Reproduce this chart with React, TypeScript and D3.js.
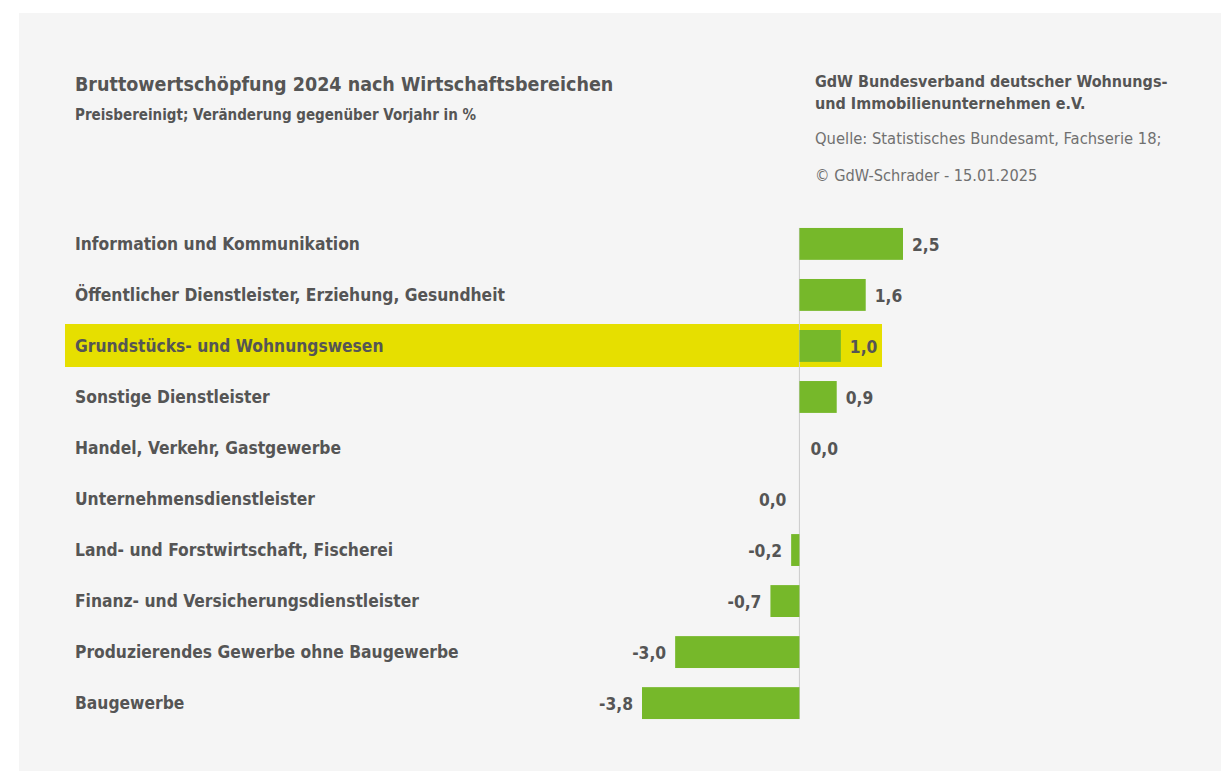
import React from "react";
import * as d3 from "d3";

const categories = [
  "Information und Kommunikation",
  "Öffentlicher Dienstleister, Erziehung, Gesundheit",
  "Grundstücks- und Wohnungswesen",
  "Sonstige Dienstleister",
  "Handel, Verkehr, Gastgewerbe",
  "Unternehmensdienstleister",
  "Land- und Forstwirtschaft, Fischerei",
  "Finanz- und Versicherungsdienstleister",
  "Produzierendes Gewerbe ohne Baugewerbe",
  "Baugewerbe",
];
// -0 marks a zero value shown on the negative side
const values = [2.5, 1.6, 1.0, 0.9, 0.0, -0, -0.2, -0.7, -3.0, -3.8];
const highlighted = ["Grundstücks- und Wohnungswesen"];

const title = "Bruttowertschöpfung 2024 nach Wirtschaftsbereichen";
const subtitle = "Preisbereinigt; Veränderung gegenüber Vorjahr in %";
const publisher = ["GdW Bundesverband deutscher Wohnungs-", "und Immobilienunternehmen e.V."];
const source = "Quelle: Statistisches Bundesamt, Fachserie 18;";
const copyright = "© GdW-Schrader - 15.01.2025";

const W = 1221;
const H = 773;
const FONT = "'DejaVu Sans Condensed', 'Roboto', sans-serif";
const TEXT = "#555555";

export default function App() {
  const x = d3.scaleLinear().domain([-3.8, 2.5]).range([642, 903]);
  const y = d3
    .scaleBand<string>()
    .domain(categories)
    .range([218.4, 728.6])
    .paddingInner(0.375)
    .paddingOuter(0.1875);
  const fmt = (v: number) => d3.format(".1f")(Math.abs(v) === 0 ? 0 : v).replace(".", ",").replace("−", "-");
  const isNeg = (v: number) => v < 0 || Object.is(v, -0);
  const x0 = x(0);
  const yStart = y(categories[0])!;
  const yEnd = y(categories[categories.length - 1])! + y.bandwidth();

  return (
    <svg width={W} height={H} style={{ position: "absolute", left: 0, top: 0 }} fontFamily={FONT}>
      <rect x={0} y={0} width={W} height={H} fill="#ffffff" />
      <rect x={19} y={13} width={W - 19} height={758} fill="#f5f5f5" />

      <text x={75} y={91} fontSize={19.5} fontWeight="bold" fill={TEXT}>{title}</text>
      <text x={75} y={120} fontSize={15} fontWeight="bold" fill={TEXT}>{subtitle}</text>

      <text x={815} y={87} fontSize={16} fontWeight="bold" fill={TEXT}>{publisher[0]}</text>
      <text x={815} y={109} fontSize={16} fontWeight="bold" fill={TEXT}>{publisher[1]}</text>
      <text x={815} y={144} fontSize={16.4} fill="#707070">{source}</text>
      <text x={815} y={181} fontSize={16.2} fill="#707070">{copyright}</text>

      {categories.map((c) => {
        const yy = y(c)!;
        const cy = yy + y.bandwidth() / 2;
        const hi = highlighted.includes(c);
        return (
          <g key={c}>
            {hi && <rect x={65} y={324} width={817} height={43} fill="#e6df00" />}
            <text x={75} y={cy} dy="0.35em" fontSize={17.3} fontWeight="bold" fill={TEXT}>{c}</text>
          </g>
        );
      })}

      <line x1={x0} x2={x0} y1={yStart} y2={yEnd} stroke="#cccccc" strokeWidth={1} />

      {categories.map((c, i) => {
        const v = values[i];
        const yy = y(c)!;
        const cy = yy + y.bandwidth() / 2;
        const neg = isNeg(v);
        const bx = Math.min(x(v), x0);
        const bw = Math.abs(x(v) - x0);
        const lx = v === 0 ? (neg ? x0 - 13 : x0 + 11) : neg ? x(v) - 9 : x(v) + 9;
        return (
          <g key={c}>
            {bw > 0 && <rect x={bx} y={yy} width={bw} height={y.bandwidth()} fill="#76b82a" />}
            <text
              x={lx}
              y={cy + 1}
              dy="0.35em"
              textAnchor={neg ? "end" : "start"}
              fontSize={17.3}
              fontWeight="bold"
              fill={TEXT}
            >
              {fmt(v)}
            </text>
          </g>
        );
      })}
    </svg>
  );
}
